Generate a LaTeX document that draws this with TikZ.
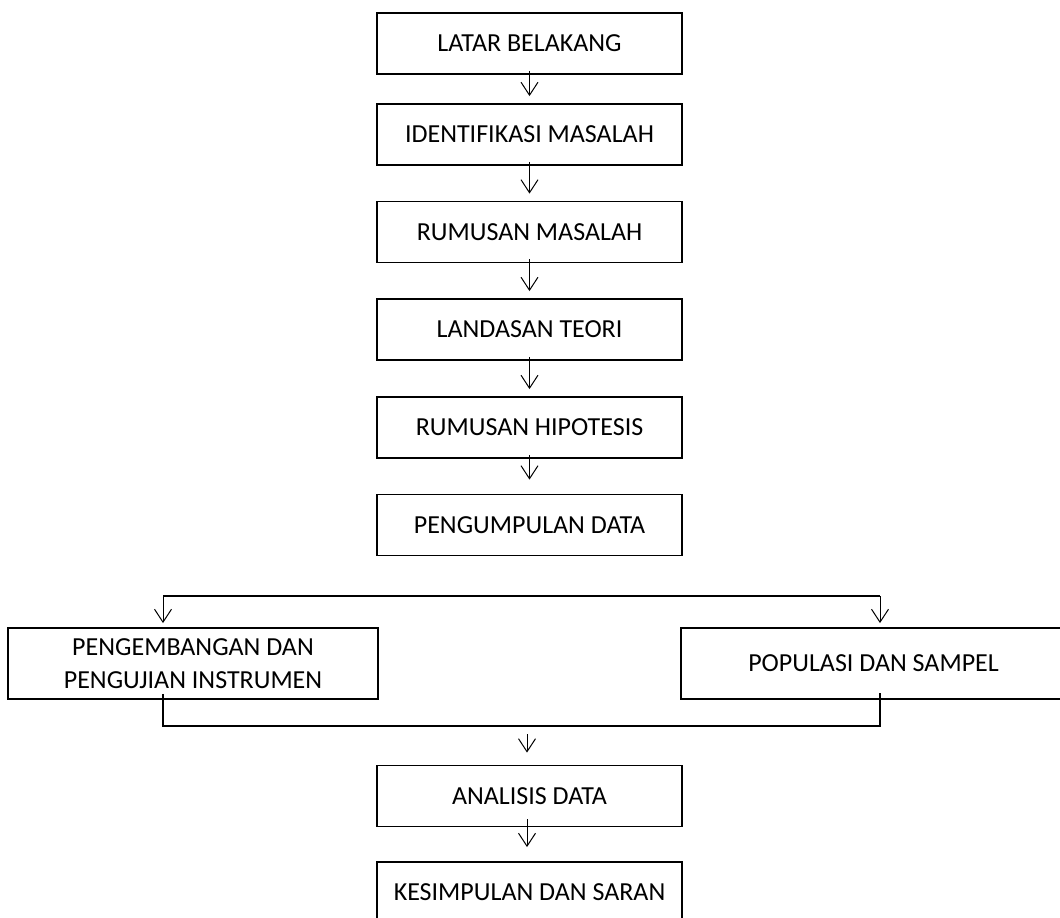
\documentclass[tikz,border=0pt]{standalone}
\usepackage{fontspec}
\setmainfont{Carlito}
\usetikzlibrary{arrows.meta}
\tikzset{
  stage/.style={draw, line width=1.8pt, minimum width=305pt, minimum height=61pt,
    inner sep=0pt, font=\fontsize{26}{33}\selectfont, align=center},
  side/.style={stage, minimum width=370pt, minimum height=71pt},
  flow/.style={line width=1pt, -{Straight Barb[length=13pt,width=17pt,line width=1pt]}},
  joint/.style={line width=1.6pt}
}

\begin{document}
\begin{tikzpicture}[x=1pt, y=-1pt]
\useasboundingbox (0,0) rectangle (1060,918);

\node[stage] (latar) at (529.5,43.5) {LATAR BELAKANG};
\node[stage] (ident) at (529.5,134.5) {IDENTIFIKASI MASALAH};
\node[stage] (rumus) at (529.5,232) {RUMUSAN MASALAH};
\node[stage] (teori) at (529.5,329.5) {LANDASAN TEORI};
\node[stage] (hipo) at (529.5,427.5) {RUMUSAN HIPOTESIS};
\node[stage] (kumpul) at (529.5,525) {PENGUMPULAN DATA};
\node[side] (instr) at (193,663.5) {PENGEMBANGAN DAN\\PENGUJIAN INSTRUMEN};
\node[side, minimum width=385pt] (popul) at (873.5,663.5) {POPULASI DAN SAMPEL};
\node[stage] (anal) at (529.5,796) {ANALISIS DATA};
\node[stage] (simpul) at (529.5,892.5) {KESIMPULAN DAN SARAN};

\draw[flow] ([yshift=4pt]latar.south) -- ([yshift=7pt]ident.north);
\draw[flow] ([yshift=4pt]ident.south) -- ([yshift=7pt]rumus.north);
\draw[flow] ([yshift=4pt]rumus.south) -- ([yshift=7pt]teori.north);
\draw[flow] ([yshift=4pt]teori.south) -- ([yshift=7pt]hipo.north);
\draw[flow] ([yshift=4pt]hipo.south) -- ([yshift=14pt]kumpul.north);

\coordinate (bagiL) at (163,596);
\coordinate (bagiR) at (880,596);
\draw[joint] (bagiL) -- (bagiR);
\draw[flow] (bagiL) -- ([yshift=4pt]instr.north -| bagiL);
\draw[flow] (bagiR) -- ([yshift=4pt]popul.north -| bagiR);

\coordinate (gabungL) at (163,726);
\coordinate (gabungR) at (880,726);
\draw[joint] ([yshift=6pt]instr.south -| gabungL) -- (gabungL) -- (gabungR)
  -- ([yshift=7pt]popul.south -| gabungR);
\draw[flow] (527,734) -- ([yshift=12pt]anal.north -| 527,0);
\draw[flow] ([yshift=8pt]anal.south -| 527,0) -- ([yshift=14pt]simpul.north -| 527,0);
\end{tikzpicture}
\end{document}
